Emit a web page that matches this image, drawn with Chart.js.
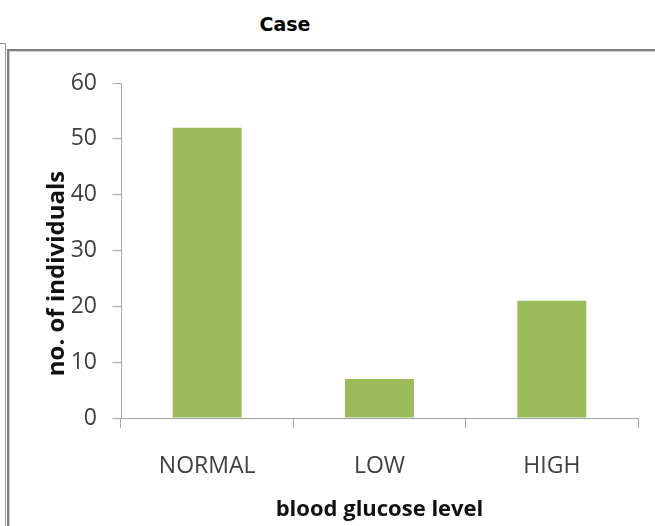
<!DOCTYPE html>
<html>
<head>
<meta charset="utf-8">
<script src="https://cdn.jsdelivr.net/npm/chart.js@4/dist/chart.umd.min.js"></script>
<style>
  html, body { margin: 0; padding: 0; background: #ffffff; }
  #wrap { position: relative; width: 655px; height: 526px; overflow: hidden; background: #ffffff; }
  #chart { position: absolute; left: 0; top: 0; }
  .title {
    position: absolute; left: 0; top: 15px; width: 570px; text-align: center;
    font: bold 19px "DejaVu Sans", sans-serif; line-height: 19px; color: #000000;
  }
  .frame { position: absolute; }
</style>
</head>
<body>
<div id="wrap">
  <!-- outer window edge -->
  <div class="frame" style="left:0;top:43px;width:6px;height:1px;background:#9a9a9a"></div>
  <div class="frame" style="left:5px;top:43px;width:1px;height:483px;background:#9a9a9a"></div>
  <!-- inner panel edge -->
  <div class="frame" style="left:7px;top:49px;width:648px;height:2px;background:#808080"></div>
  <div class="frame" style="left:9px;top:51px;width:646px;height:1px;background:#d4d4d4"></div>
  <div class="frame" style="left:7px;top:49px;width:2px;height:477px;background:#808080"></div>
  <div class="frame" style="left:9px;top:51px;width:1px;height:475px;background:#d4d4d4"></div>
  <div class="title">Case</div>
  <canvas id="chart" width="655" height="526"></canvas>
</div>
<script>
// Blood glucose groups and number of individuals in each
const categories = ['NORMAL', 'LOW', 'HIGH'];
const individuals = [52, 7, 21];
const yTicks = [0, 10, 20, 30, 40, 50, 60];

const axisColor = '#a6a6a6';
const tickFont = { family: '"Open Sans", sans-serif', size: 23 };
const titleFont = { family: '"Open Sans", sans-serif', size: 22, weight: 'bold' };

// Vertical axis caption, sitting a little below the middle of the axis
const yCaption = {
  id: 'yCaption',
  afterDraw(chart, args, opts) {
    const { ctx, chartArea } = chart;
    ctx.save();
    ctx.translate(opts.x, (chartArea.top + chartArea.bottom) / 2 + opts.shift);
    ctx.rotate(-Math.PI / 2);
    ctx.font = 'bold 24px "Open Sans", sans-serif';
    ctx.fillStyle = '#111111';
    ctx.textAlign = 'center';
    ctx.textBaseline = 'middle';
    ctx.fillText(opts.text, 0, 0);
    ctx.restore();
  }
};

new Chart(document.getElementById('chart'), {
  type: 'bar',
  data: {
    labels: categories,
    datasets: [{
      label: 'Case',
      data: individuals,
      backgroundColor: '#9bbb59',
      borderWidth: 0,
      barPercentage: 0.4,
      categoryPercentage: 1.0
    }]
  },
  plugins: [yCaption],
  options: {
    responsive: false,
    animation: false,
    devicePixelRatio: 1,
    layout: { padding: { left: 20, right: 17, top: 83, bottom: 0 } },
    plugins: {
      legend: { display: false },
      title: { display: false },
      tooltip: { enabled: false },
      yCaption: { text: 'no. of individuals', x: 57, shift: 23 }
    },
    scales: {
      x: {
        offset: true,
        grid: { offset: true, drawOnChartArea: false, drawTicks: true, tickLength: 10, color: axisColor },
        border: { color: axisColor, width: 1 },
        ticks: { font: tickFont, color: '#404040', padding: 25, maxRotation: 0 },
        title: { display: true, text: 'blood glucose level', font: titleFont, color: '#111111', padding: { top: 0, bottom: 3 } },
        afterFit: (scale) => { scale.height = 108; }
      },
      y: {
        min: 0,
        max: 60,
        afterBuildTicks: (scale) => { scale.ticks = yTicks.map(v => ({ value: v })); },
        grid: { drawOnChartArea: false, drawTicks: true, tickLength: 8, color: axisColor },
        border: { color: axisColor, width: 1 },
        ticks: { font: tickFont, color: '#404040', padding: 16 },
        title: { display: false },
        afterFit: (scale) => { scale.width = 101; }
      }
    }
  }
});
</script>
</body>
</html>
